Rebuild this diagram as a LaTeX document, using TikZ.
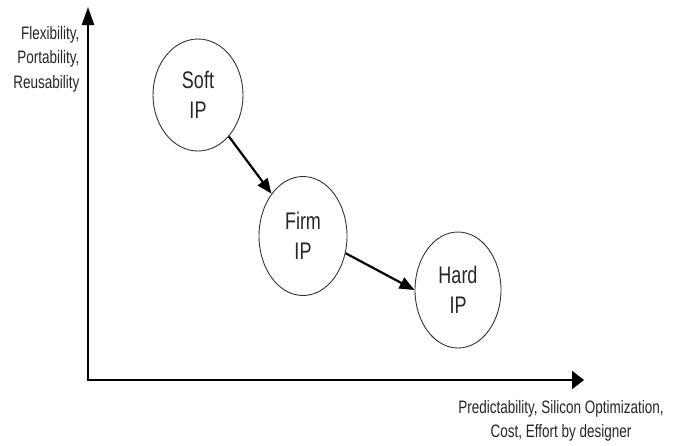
\documentclass[tikz,border=0pt]{standalone}
\usepackage{fontspec}
\setmainfont{Liberation Sans}[FakeStretch=0.75]
\usetikzlibrary{positioning,arrows.meta,shapes.geometric}

\begin{document}
\begin{tikzpicture}[
    x=1pt, y=-1pt,
    ip/.style={draw=black!80, line width=0.9pt, ellipse, inner sep=0pt,
               minimum width=88pt, minimum height=116pt, align=center,
               font=\fontsize{24}{30}\selectfont, text=black!85},
    axis/.style={line width=2.4pt, draw=black},
    flow/.style={-{Triangle[length=15pt,width=12pt]}, line width=2.2pt, draw=black},
    lbl/.style={font=\fontsize{18}{24.5}\selectfont, text=black!85},
]
\useasboundingbox (0,0) rectangle (678,445);

% axes
\coordinate (origin) at (88,380);
\coordinate (ytip) at (88,7);
\coordinate (xtip) at (584,380);
\draw[axis, -{Triangle[length=18pt,width=12pt]}] (origin) -- (ytip);
\draw[axis, -{Triangle[length=12pt,width=18pt]}] ([xshift=-1.2pt]origin) -- (xtip);

% IP kinds
\node[ip, minimum width=90pt, minimum height=112pt] (soft) at (198,95) {Soft\\IP};
\node[ip, minimum height=119pt] (firm) at (303,236) {Firm\\IP};
\node[ip, minimum width=86pt] (hard) at (458,290) {Hard\\IP};
\draw[flow] (soft) -- (firm);
\draw[flow] (firm.-22) -- (hard.west);

% axis labels
\node[lbl, align=right, anchor=east] (ylbl) at (83,59) {Flexibility,\\Portability,\\Reusability};
\node[lbl, align=center] (xlbl) at (561,421) {Predictability, Silicon Optimization,\\Cost, Effort by designer};
\end{tikzpicture}
\end{document}
